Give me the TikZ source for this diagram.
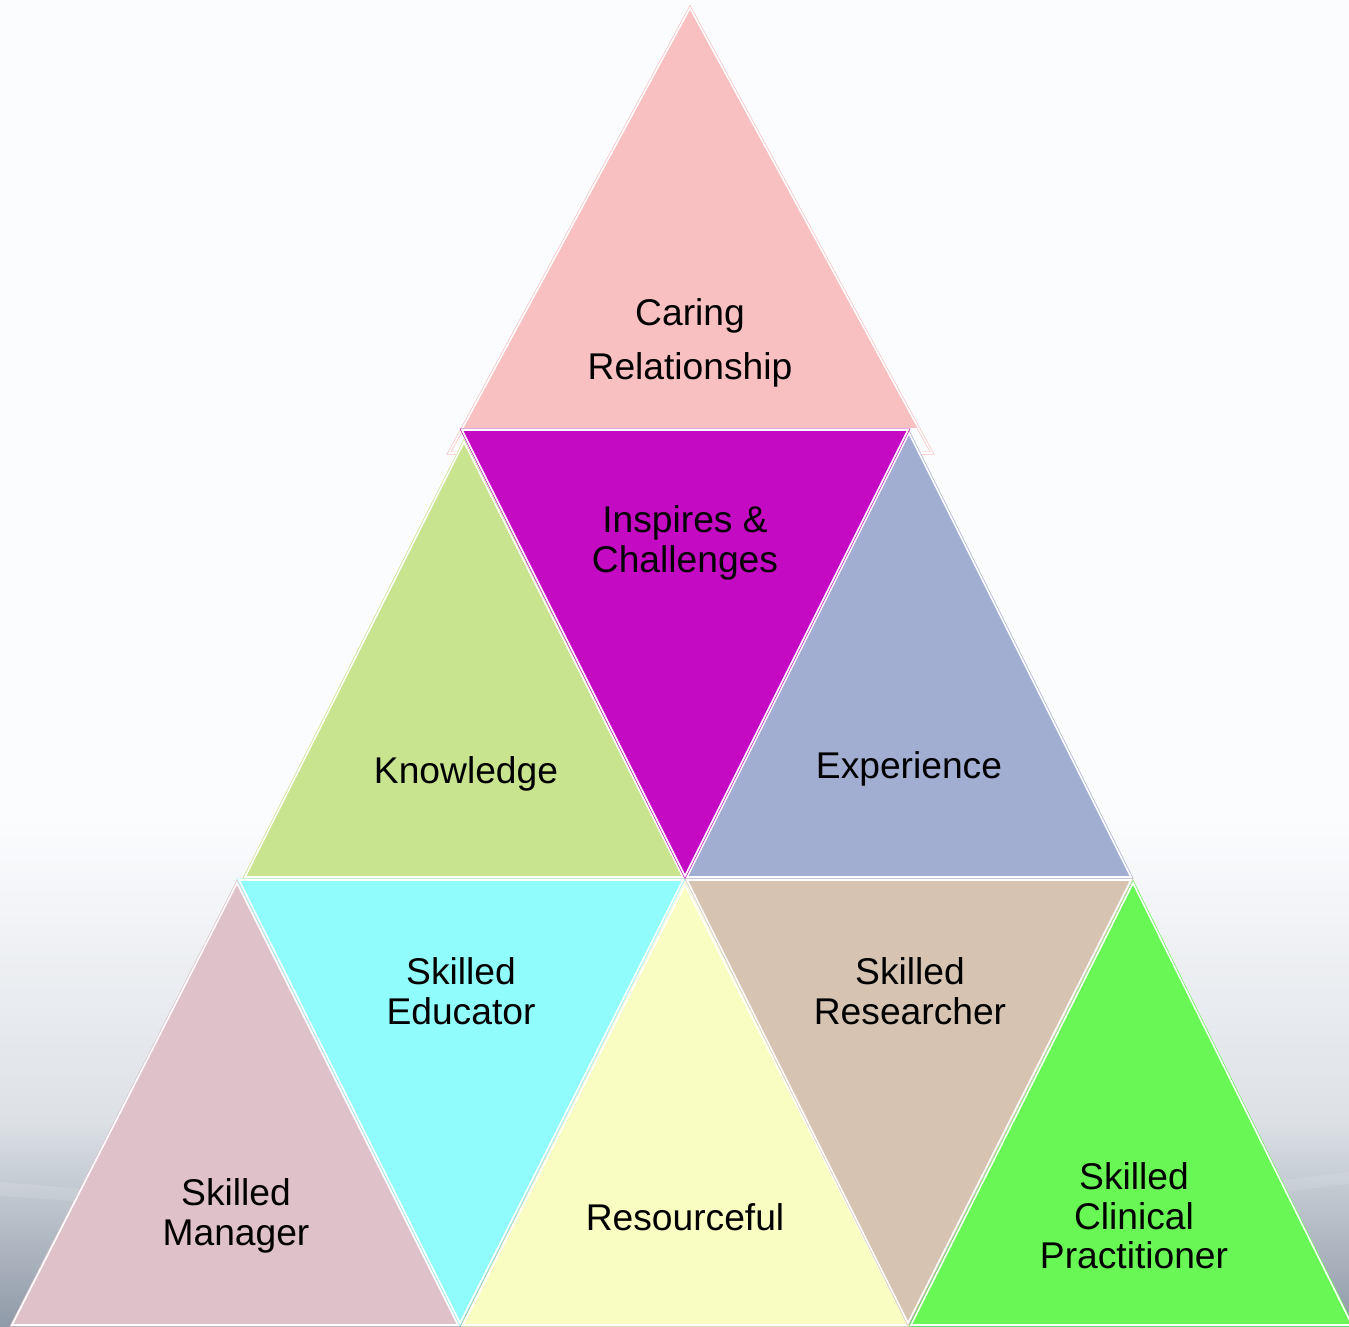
\documentclass[tikz,border=0pt]{standalone}
\usepackage{fontspec}
\setmainfont{Liberation Sans}
\definecolor{bgtop}{HTML}{FBFCFE}
\definecolor{bgmid}{HTML}{DDE1E6}
\definecolor{bgbot}{HTML}{8F9AA8}
\definecolor{cTop}{HTML}{F8C0C0}
\definecolor{cMag}{HTML}{C40AC3}
\definecolor{cKno}{HTML}{C8E48E}
\definecolor{cExp}{HTML}{A1AED2}
\definecolor{cMan}{HTML}{DFC1C9}
\definecolor{cEdu}{HTML}{91FCFC}
\definecolor{cRes}{HTML}{F9FDC1}
\definecolor{cRsr}{HTML}{D6C3B2}
\definecolor{cCli}{HTML}{68F754}
\begin{document}
\begin{tikzpicture}[x=1pt,y=-1pt,
  tri/.style={fill=#1, draw=#1, double=white, line width=0.7pt, double distance=1.6pt, line join=miter},
  triline/.style={draw=#1, double=white, line width=0.7pt, double distance=1.6pt, line join=miter},
  lbl/.style={font=\fontsize{37.2}{39.5}\selectfont, align=center, inner sep=0pt, text=black}]
\useasboundingbox (0,0) rectangle (1349,1327);
\clip (0,0) rectangle (1349,1327);
% background
\fill[bgtop] (0,0) rectangle (1349,1327);
\shade[top color=bgtop, bottom color=bgmid] (0,820) rectangle (1349,1120);
\shade[top color=bgmid, bottom color=bgbot] (0,1119) rectangle (1349,1327);
\fill[white, opacity=0.12] (0,1182) -- (240,1202) -- (240,1212) -- (0,1196) -- cycle;
\fill[white, opacity=0.1] (1130,1200) -- (1349,1172) -- (1349,1184) -- (1130,1212) -- cycle;
% coordinates
\coordinate (tA) at (690,8);
\coordinate (tB) at (449,453);
\coordinate (tC) at (932,453);
% top triangle
\begin{scope}
  \clip (0,0) rectangle (1349,427);
  \fill[cTop] (tA) -- (tB) -- (tC) -- cycle;
\end{scope}
\path[triline=cTop] (tA) -- (tB) -- (tC) -- cycle;
% middle row
\path[tri=cKno] (464,442) -- (245,877) -- (683,877) -- cycle;
\path[tri=cExp] (909,433) -- (687,877) -- (1131,877) -- cycle;
\path[tri=cMag] (462,430) -- (908,430) -- (685,876) -- cycle;
% bottom row
\path[tri=cMan] (237,883) -- (12,1325) -- (458,1325) -- cycle;
\path[tri=cRes] (685,885) -- (463,1325) -- (908,1325) -- cycle;
\path[tri=cCli] (1133,883) -- (911,1325) -- (1352,1325) -- cycle;
\path[tri=cEdu] (239,880) -- (683,880) -- (460,1323) -- cycle;
\path[tri=cRsr] (687,880) -- (1131,880) -- (908,1323) -- cycle;
% labels
\node[lbl] (caring) at (690,343) {Caring\\[14.5pt]Relationship};
\node[lbl] (inspires) at (685,543) {Inspires \&\\Challenges};
\node[lbl] (knowledge) at (466,774) {Knowledge};
\node[lbl] (experience) at (909,769) {Experience};
\node[lbl] (educator) at (461,991) {Skilled\\Educator};
\node[lbl] (researcher) at (910,991) {Skilled\\Researcher};
\node[lbl] (manager) at (236,1216) {Skilled\\Manager};
\node[lbl] (resourceful) at (685,1217) {Resourceful};
\node[lbl] (clinical) at (1134,1216) {Skilled\\Clinical\\Practitioner};
\end{tikzpicture}
\end{document}
